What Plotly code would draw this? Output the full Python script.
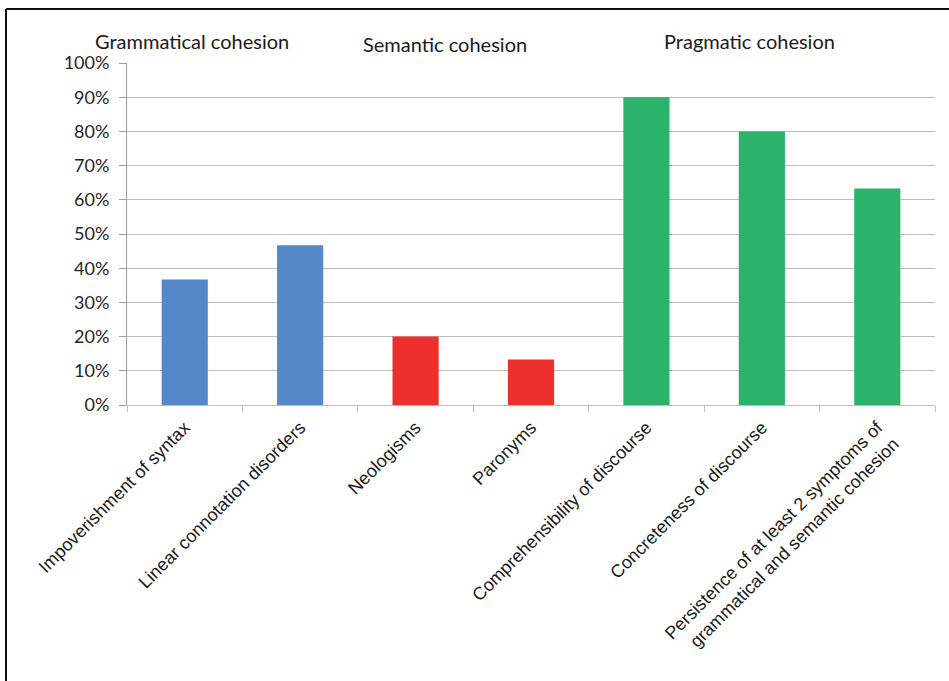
import plotly.graph_objects as go

# Cohesion disorder symptoms and share of patients showing them
categories = [
    "Impoverishment of syntax",
    "Linear connotation disorders",
    "Neologisms",
    "Paronyms",
    "Comprehensibility of discourse",
    "Concreteness of discourse",
    "Persistence of at least 2 symptoms of<br>grammatical and semantic cohesion",
]
values = [0.367, 0.467, 0.200, 0.133, 0.900, 0.800, 0.633]
groups = ["Grammatical", "Grammatical", "Semantic", "Semantic",
          "Pragmatic", "Pragmatic", "Pragmatic"]
group_colors = {"Grammatical": "#5588C9", "Semantic": "#EE302D", "Pragmatic": "#2BB36B"}
group_titles = ["Grammatical cohesion", "Semantic cohesion", "Pragmatic cohesion"]
y_ticks = [i / 10 for i in range(11)]

W, H = 949, 681
L, R, T, B = 127, 14, 63, 276
pw, ph = W - L - R, H - T - B

def px_x(x):
    return (x - L) / pw

def px_y(y):
    return 1 + (T - y) / ph

fig = go.Figure(
    go.Bar(
        x=categories,
        y=values,
        marker=dict(color=[group_colors[g] for g in groups], line=dict(width=0)),
        width=0.4,
        hoverinfo="x+y",
    )
)

fig.update_layout(
    width=W,
    height=H,
    margin=dict(l=L, r=R, t=T, b=B),
    paper_bgcolor="white",
    plot_bgcolor="white",
    showlegend=False,
    bargap=0.6,
)

fig.update_yaxes(
    range=[0, 1],
    tickvals=y_ticks,
    tickformat=".0%",
    showgrid=True,
    gridcolor="#BDBDBD",
    gridwidth=1,
    showline=True,
    linecolor="#9E9E9E",
    ticks="outside",
    ticklen=7,
    tickcolor="#9E9E9E",
    ticklabelstandoff=6,
    tickfont=dict(family="Lato", size=18, color="#262626"),
    zeroline=False,
)

fig.update_xaxes(
    tickangle=-45,
    showline=True,
    linecolor="#BDBDBD",
    linewidth=1,
    ticks="outside",
    tickson="boundaries",
    ticklen=6,
    tickcolor="#BDBDBD",
    ticklabelstandoff=4,
    tickfont=dict(family="Liberation Sans", size=18, color="#1A1A1A"),
)

# group headings above the bars
heading_pos = [(192, 41), (445, 44), (749, 41)]
for text, (hx, hy) in zip(group_titles, heading_pos):
    fig.add_annotation(
        text=text,
        xref="paper", yref="paper",
        x=px_x(hx), y=px_y(hy),
        xanchor="center", yanchor="middle",
        showarrow=False,
        font=dict(family="Lato", size=20, color="#1A1A1A"),
    )

# outer frame
fig.add_shape(type="line", xref="paper", yref="paper",
              x0=px_x(6), x1=px_x(949), y0=px_y(9), y1=px_y(9),
              line=dict(color="#111111", width=2))
fig.add_shape(type="line", xref="paper", yref="paper",
              x0=px_x(6), x1=px_x(6), y0=px_y(9), y1=px_y(681),
              line=dict(color="#111111", width=2))

fig.write_html("out.html")
